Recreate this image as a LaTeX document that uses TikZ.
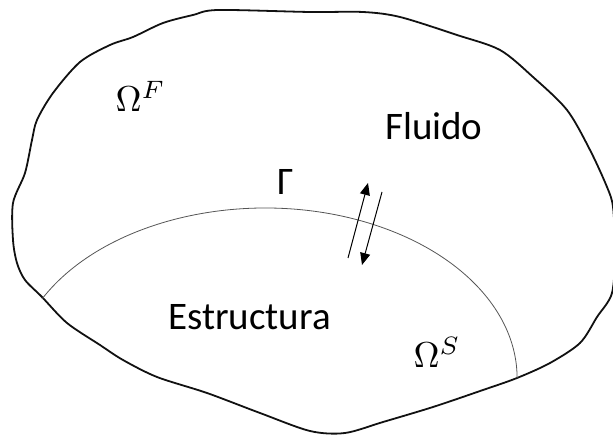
\documentclass[tikz,border=0pt]{standalone}
\usepackage{fontspec}
\setmainfont{Carlito}
\usetikzlibrary{arrows.meta}
\definecolor{outline}{HTML}{111111}
\definecolor{iface}{HTML}{555555}

\begin{document}
\begin{tikzpicture}[x=1pt, y=1pt,
    bnd/.style={draw=outline, line width=1.8pt, line join=round},
    gam/.style={draw=iface, line width=0.8pt},
    flx/.style={draw=black, line width=1pt, -{Triangle[length=12pt, width=10pt]}},
    lbl/.style={inner sep=0pt, anchor=base west, font=\fontsize{39}{44}\selectfont},
    mlb/.style={inner sep=0pt, anchor=base west, font=\normalsize, scale=3.6}]
  \useasboundingbox (0,0) rectangle (613,436);
  % outer boundary of the domain
  \draw[bnd] plot[smooth cycle, tension=0.5] coordinates {
    (218,426) (310,424) (363,424) (400,419) (457,401) (500,386) (533,359)
    (567,326) (590,286) (607,249) (613,229) (615,186) (612,143) (597,119)
    (580,93) (550,73) (517,58) (483,46) (433,29) (383,14) (345,3) (310,5)
    (260,23) (207,43) (157,59) (123,76) (100,91) (67,113) (42,139) (25,156)
    (17,173) (13,196) (13,233) (25,263) (32,296) (37,316) (53,343) (80,374)
    (110,391) (133,399) (163,413) (193,421)};
  % interface Gamma
  \coordinate (gl) at (42,137);
  \draw[gam] (gl) arc[start angle=152.3, end angle=0, x radius=252, y radius=170] coordinate (gr);
  % exchange arrows
  \coordinate (up0) at (348,178);
  \coordinate (up1) at (368,253);
  \coordinate (dn0) at (382,244);
  \coordinate (dn1) at (362,171);
  \draw[flx] (up0) -- (up1);
  \draw[flx] (dn0) -- (dn1);
  % labels
  \node[mlb] (omf) at (115,324) {$\Omega^F$};
  \node[lbl] (flu) at (385,296) {Fluido};
  \node[lbl] (gmm) at (277,241) {Γ};
  \node[lbl] (est) at (168,106) {Estructura};
  \node[mlb] (oms) at (413,68) {$\Omega^S$};
\end{tikzpicture}
\end{document}
